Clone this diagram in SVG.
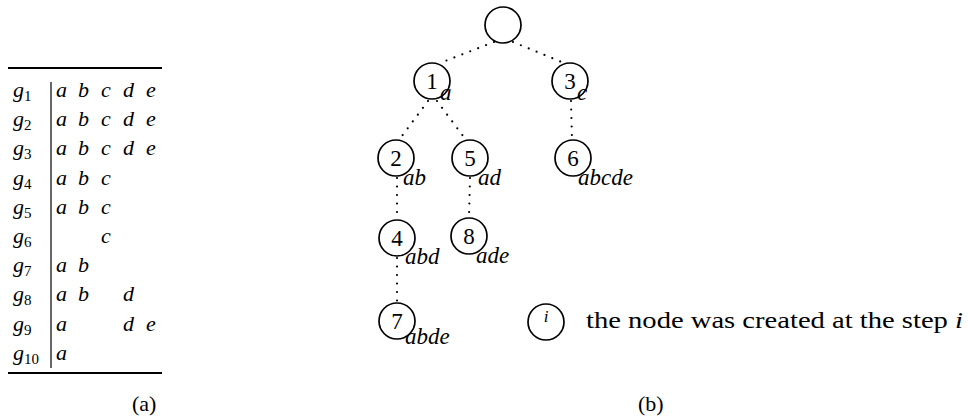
<svg xmlns="http://www.w3.org/2000/svg" width="969" height="420" viewBox="0 0 969 420">
<defs>
<style>
.t{font-size:22px;font-style:italic}
.sub{font-size:15px;font-style:normal}
.num{font-size:23px;text-anchor:middle}
.lab{font-size:23px;font-style:italic}
.cap{font-size:22px}
.node{fill:none;stroke:#000;stroke-width:1.7}
.dot{stroke:#000;stroke-width:2.2;stroke-linecap:round;stroke-dasharray:0 8.5;fill:none}
</style>
</defs>
<rect width="969" height="420" fill="#fff"/>
<g id="table" font-family="Liberation Serif, serif" fill="#000">
<line x1="8" y1="68" x2="162" y2="68" stroke="#000" stroke-width="2"/>
<line x1="8" y1="373" x2="162" y2="373" stroke="#000" stroke-width="2"/>
<line x1="51" y1="82" x2="51" y2="368" stroke="#000" stroke-width="1.2"/>
<text class="t" x="13" y="97">g<tspan class="sub" dy="4">1</tspan></text>
<text class="t" x="13" y="126">g<tspan class="sub" dy="4">2</tspan></text>
<text class="t" x="13" y="155">g<tspan class="sub" dy="4">3</tspan></text>
<text class="t" x="13" y="185">g<tspan class="sub" dy="4">4</tspan></text>
<text class="t" x="13" y="214">g<tspan class="sub" dy="4">5</tspan></text>
<text class="t" x="13" y="243">g<tspan class="sub" dy="4">6</tspan></text>
<text class="t" x="13" y="272">g<tspan class="sub" dy="4">7</tspan></text>
<text class="t" x="13" y="301">g<tspan class="sub" dy="4">8</tspan></text>
<text class="t" x="13" y="331">g<tspan class="sub" dy="4">9</tspan></text>
<text class="t" x="13" y="360">g<tspan class="sub" dy="4">10</tspan></text>
<text class="t" y="97"><tspan x="56">a</tspan><tspan x="78">b</tspan><tspan x="101">c</tspan><tspan x="123">d</tspan><tspan x="146">e</tspan></text>
<text class="t" y="126"><tspan x="56">a</tspan><tspan x="78">b</tspan><tspan x="101">c</tspan><tspan x="123">d</tspan><tspan x="146">e</tspan></text>
<text class="t" y="155"><tspan x="56">a</tspan><tspan x="78">b</tspan><tspan x="101">c</tspan><tspan x="123">d</tspan><tspan x="146">e</tspan></text>
<text class="t" y="185"><tspan x="56">a</tspan><tspan x="78">b</tspan><tspan x="101">c</tspan></text>
<text class="t" y="214"><tspan x="56">a</tspan><tspan x="78">b</tspan><tspan x="101">c</tspan></text>
<text class="t" y="243"><tspan x="101">c</tspan></text>
<text class="t" y="272"><tspan x="56">a</tspan><tspan x="78">b</tspan></text>
<text class="t" y="301"><tspan x="56">a</tspan><tspan x="78">b</tspan><tspan x="123">d</tspan></text>
<text class="t" y="331"><tspan x="56">a</tspan><tspan x="123">d</tspan><tspan x="146">e</tspan></text>
<text class="t" y="360"><tspan x="56">a</tspan></text>
<text class="cap" x="132" y="411">(a)</text>
</g>
<g id="connectors">
<line class="dot" x1="494" y1="42" x2="440" y2="63"/>
<line class="dot" x1="513" y1="42" x2="564" y2="63"/>
<line class="dot" x1="428" y1="101" x2="399" y2="140"/>
<line class="dot" x1="437" y1="101" x2="466" y2="140"/>
<line class="dot" x1="571" y1="101" x2="572" y2="140"/>
<line class="dot" x1="397" y1="178" x2="397" y2="219"/>
<line class="dot" x1="470" y1="178" x2="469" y2="217"/>
<line class="dot" x1="397" y1="258" x2="397" y2="302"/>
</g>
<g id="tree" font-family="Liberation Serif, serif" fill="#000">
<g id="root"><circle class="node" cx="503" cy="25" r="18"/></g>
<g id="n1"><circle class="node" cx="432" cy="81" r="18"/><text class="num" x="432" y="89">1</text><text class="lab" x="440" y="100">a</text></g>
<g id="n3"><circle class="node" cx="570" cy="81" r="18"/><text class="num" x="570" y="89">3</text><text class="lab" x="577" y="100">c</text></g>
<g id="n2"><circle class="node" cx="396" cy="158" r="18"/><text class="num" x="396" y="166">2</text><text class="lab" x="403" y="185">ab</text></g>
<g id="n5"><circle class="node" cx="470" cy="158" r="18"/><text class="num" x="470" y="166">5</text><text class="lab" x="478" y="185">ad</text></g>
<g id="n6"><circle class="node" cx="573" cy="158" r="18"/><text class="num" x="573" y="166">6</text><text class="lab" x="578" y="185">abcde</text></g>
<g id="n4"><circle class="node" cx="397" cy="238" r="18"/><text class="num" x="397" y="246">4</text><text class="lab" x="405" y="264">abd</text></g>
<g id="n8"><circle class="node" cx="469" cy="236" r="18"/><text class="num" x="469" y="244">8</text><text class="lab" x="476" y="263">ade</text></g>
<g id="n7"><circle class="node" cx="397" cy="321" r="18"/><text class="num" x="397" y="329">7</text><text class="lab" x="405" y="344">abde</text></g>
</g>
<g id="legend" font-family="Liberation Serif, serif" fill="#000">
<circle class="node" cx="546" cy="322" r="18"/>
<text class="lab" x="546" y="322" text-anchor="middle" style="font-size:17px">i</text>
<text class="cap" x="586" y="328" textLength="377" lengthAdjust="spacingAndGlyphs" style="font-size:23px">the node was created at the step <tspan font-style="italic">i</tspan></text>
<text class="cap" x="638" y="411">(b)</text>
</g>
</svg>
